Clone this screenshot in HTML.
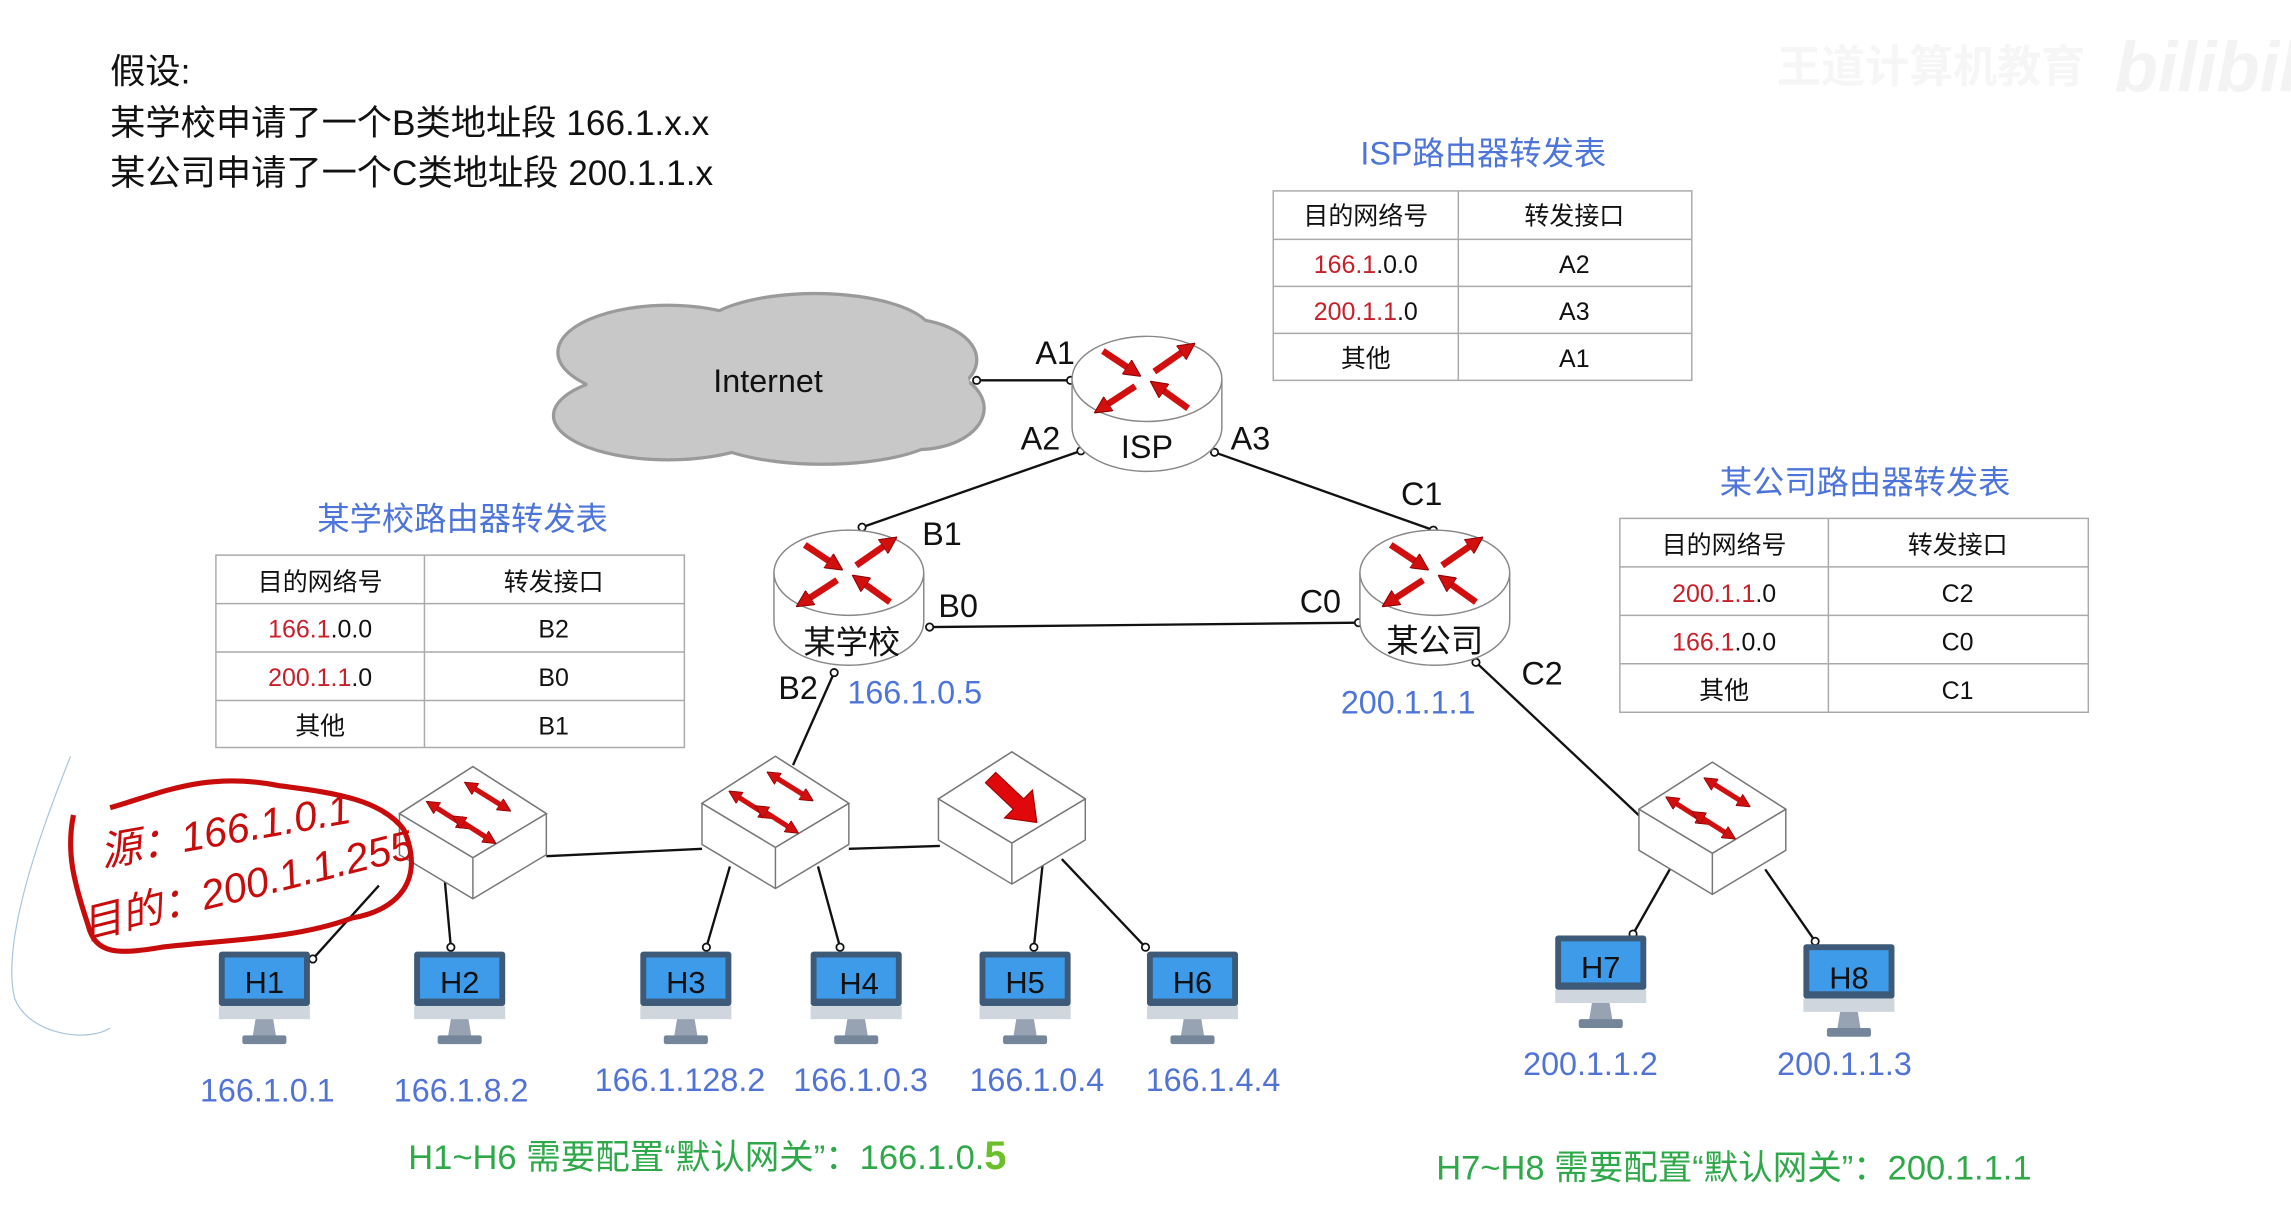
<!DOCTYPE html>
<html><head><meta charset="utf-8"><style>
html,body{margin:0;padding:0;background:#fff;}
svg{display:block;}
text{font-family:"Liberation Sans","Noto Sans CJK SC",sans-serif;}
</style></head><body>
<svg width="2291" height="1217" viewBox="0 0 1560 828.7" xmlns="http://www.w3.org/2000/svg">
<defs>
<marker id="ah" viewBox="0 0 10 10" refX="5" refY="5" markerWidth="2.6" markerHeight="2.6" orient="auto-start-reverse"><path d="M0,0 L10,5 L0,10 z" fill="#d10f0f" stroke="#8a0000" stroke-width="0.6"/></marker>
<g id="rarrows">
<line x1="-30" y1="-19" x2="-9" y2="-5" stroke="#d10f0f" stroke-width="4.5" marker-end="url(#ah)"/>
<line x1="5" y1="-5" x2="28" y2="-21" stroke="#d10f0f" stroke-width="4.5" marker-end="url(#ah)"/>
<line x1="-8" y1="5" x2="-31" y2="20" stroke="#d10f0f" stroke-width="4.5" marker-end="url(#ah)"/>
<line x1="28" y1="20" x2="7" y2="5" stroke="#d10f0f" stroke-width="4.5" marker-end="url(#ah)"/>
</g>
<g id="router">
<path d="M-51,0 L-51,33 A51,30 0 0 0 51,33 L51,0" fill="#fff" stroke="#888" stroke-width="1"/>
<ellipse cx="0" cy="0" rx="51" ry="29" fill="#fff" stroke="#888" stroke-width="1"/>
<use href="#rarrows"/>
</g>
<g id="box">
<path d="M0,0 L50,32 L50,60 L0,90 L-50,60 L-50,32 Z" fill="#fff" stroke="#777" stroke-width="1"/>
<path d="M-50,32 L0,62 L50,32 M0,62 L0,90" fill="none" stroke="#777" stroke-width="1"/>
<path d="M0,0 L50,32 L0,62 L-50,32 Z" fill="#fff" stroke="#777" stroke-width="1"/>
</g>
<g id="sw">
<use href="#box"/>
<line x1="-2" y1="13" x2="22" y2="28" stroke="#d10f0f" stroke-width="3.5" marker-start="url(#ah)" marker-end="url(#ah)"/>
<line x1="-28" y1="26" x2="-6" y2="40" stroke="#d10f0f" stroke-width="3.5" marker-start="url(#ah)" marker-end="url(#ah)"/>
<line x1="-10" y1="36" x2="12" y2="50" stroke="#d10f0f" stroke-width="3.5" marker-start="url(#ah)" marker-end="url(#ah)"/>
</g>
<g id="mon">
<rect x="0" y="0" width="62" height="37" rx="2" fill="#3d5a78"/>
<rect x="4" y="4" width="54" height="28" fill="#3d9be9"/>
<rect x="0" y="37" width="62" height="9" fill="#cfd6de"/>
<path d="M25,46 L37,46 L39,58 L23,58 Z" fill="#97a3b3"/>
<rect x="16" y="57" width="30" height="6" rx="1.5" fill="#75869a"/>
</g>
</defs>

<!-- watermark -->
<text x="1210" y="56" font-size="30" fill="#f6f6f6" font-weight="bold">王道计算机教育</text>
<text x="1440" y="62" font-size="48" fill="#f3f3f3" font-weight="bold" font-style="italic">bilibili</text>

<!-- assumption text -->
<g font-size="24" fill="#111">
<text x="75" y="57">假设:</text>
<text x="75" y="92">某学校申请了一个B类地址段 166.1.x.x</text>
<text x="75" y="126">某公司申请了一个C类地址段 200.1.1.x</text>
</g>

<!-- ISP table -->
<text x="1010" y="112" font-size="22" fill="#4d74d9" text-anchor="middle">ISP路由器转发表</text>
<g stroke="#aaa" stroke-width="1" fill="none">
<rect x="867" y="130" width="285" height="129"/>
<line x1="993" y1="130" x2="993" y2="259"/>
<line x1="867" y1="163" x2="1152" y2="163"/><line x1="867" y1="195" x2="1152" y2="195"/><line x1="867" y1="227" x2="1152" y2="227"/>
</g>
<g font-size="17" text-anchor="middle" fill="#111">
<text x="930" y="153">目的网络号</text><text x="1072" y="153">转发接口</text>
<text x="930" y="186"><tspan fill="#c8202a">166.1</tspan>.0.0</text><text x="1072" y="186">A2</text>
<text x="930" y="218"><tspan fill="#c8202a">200.1.1</tspan>.0</text><text x="1072" y="218">A3</text>
<text x="930" y="250">其他</text><text x="1072" y="250">A1</text>
</g>

<!-- school table -->
<text x="315" y="361" font-size="22" fill="#4d74d9" text-anchor="middle">某学校路由器转发表</text>
<g stroke="#aaa" stroke-width="1" fill="none">
<rect x="147" y="378" width="319" height="131"/>
<line x1="289" y1="378" x2="289" y2="509"/>
<line x1="147" y1="411" x2="466" y2="411"/><line x1="147" y1="444" x2="466" y2="444"/><line x1="147" y1="477" x2="466" y2="477"/>
</g>
<g font-size="17" text-anchor="middle" fill="#111">
<text x="218" y="402">目的网络号</text><text x="377" y="402">转发接口</text>
<text x="218" y="434"><tspan fill="#c8202a">166.1</tspan>.0.0</text><text x="377" y="434">B2</text>
<text x="218" y="467"><tspan fill="#c8202a">200.1.1</tspan>.0</text><text x="377" y="467">B0</text>
<text x="218" y="500">其他</text><text x="377" y="500">B1</text>
</g>

<!-- company table -->
<text x="1270" y="336" font-size="22" fill="#4d74d9" text-anchor="middle">某公司路由器转发表</text>
<g stroke="#aaa" stroke-width="1" fill="none">
<rect x="1103" y="353" width="319" height="132"/>
<line x1="1245" y1="353" x2="1245" y2="485"/>
<line x1="1103" y1="386" x2="1422" y2="386"/><line x1="1103" y1="419" x2="1422" y2="419"/><line x1="1103" y1="452" x2="1422" y2="452"/>
</g>
<g font-size="17" text-anchor="middle" fill="#111">
<text x="1174" y="377">目的网络号</text><text x="1333" y="377">转发接口</text>
<text x="1174" y="410"><tspan fill="#c8202a">200.1.1</tspan>.0</text><text x="1333" y="410">C2</text>
<text x="1174" y="443"><tspan fill="#c8202a">166.1</tspan>.0.0</text><text x="1333" y="443">C0</text>
<text x="1174" y="476">其他</text><text x="1333" y="476">C1</text>
</g>

<!-- cloud -->
<g stroke="#9a9a9a" stroke-width="2.5" fill="#c8c8c8">
<ellipse cx="455" cy="240" rx="75" ry="32"/><ellipse cx="555" cy="228" rx="80" ry="28"/><ellipse cx="615" cy="245" rx="50" ry="28"/>
<ellipse cx="455" cy="283" rx="78" ry="30"/><ellipse cx="560" cy="290" rx="85" ry="26"/><ellipse cx="625" cy="278" rx="45" ry="28"/>
</g>
<g fill="#c8c8c8">
<ellipse cx="455" cy="240" rx="74" ry="31"/><ellipse cx="555" cy="228" rx="79" ry="27"/><ellipse cx="615" cy="245" rx="49" ry="27"/>
<ellipse cx="455" cy="283" rx="77" ry="29"/><ellipse cx="560" cy="290" rx="84" ry="25"/><ellipse cx="625" cy="278" rx="44" ry="27"/>
<ellipse cx="530" cy="262" rx="130" ry="40"/>
</g>
<text x="523" y="267" font-size="22" fill="#111" text-anchor="middle">Internet</text>

<!-- links -->
<g stroke="#111" stroke-width="1.6" fill="none">
<line x1="665" y1="259" x2="729" y2="259"/>
<line x1="736" y1="307" x2="587" y2="359"/>
<line x1="827" y1="308" x2="976" y2="361"/>
<line x1="633" y1="427" x2="925" y2="424"/>
<line x1="568" y1="458" x2="540" y2="521"/>
<line x1="1005" y1="451" x2="1119" y2="558"/>
<line x1="372" y1="583" x2="478" y2="578"/>
<line x1="578" y1="578" x2="640" y2="576"/>
<line x1="258" y1="603" x2="213" y2="653"/>
<line x1="302" y1="590" x2="307" y2="645"/>
<line x1="497" y1="590" x2="481" y2="645"/>
<line x1="557" y1="590" x2="572" y2="645"/>
<line x1="710" y1="588" x2="704" y2="645"/>
<line x1="723" y1="585" x2="780" y2="645"/>
<line x1="1137" y1="592" x2="1112" y2="636"/>
<line x1="1202" y1="592" x2="1236" y2="641"/>
</g>
<g fill="#fff" stroke="#111" stroke-width="1.2">
<circle cx="665" cy="259" r="2.5"/><circle cx="729" cy="259" r="2.5"/><circle cx="736" cy="307" r="2.5"/><circle cx="587" cy="359" r="2.5"/>
<circle cx="827" cy="308" r="2.5"/><circle cx="976" cy="361" r="2.5"/><circle cx="633" cy="427" r="2.5"/><circle cx="925" cy="424" r="2.5"/>
<circle cx="568" cy="458" r="2.5"/><circle cx="1005" cy="451" r="2.5"/>
<circle cx="213" cy="653" r="2.5"/><circle cx="307" cy="645" r="2.5"/><circle cx="481" cy="645" r="2.5"/><circle cx="572" cy="645" r="2.5"/>
<circle cx="704" cy="645" r="2.5"/><circle cx="780" cy="645" r="2.5"/><circle cx="1112" cy="636" r="2.5"/><circle cx="1236" cy="641" r="2.5"/>
</g>

<!-- routers -->
<use href="#router" x="781" y="258"/>
<use href="#router" x="578" y="390"/>
<use href="#router" x="977" y="390"/>
<g font-size="22" fill="#111">
<text x="781" y="312" text-anchor="middle">ISP</text>
<text x="580" y="445" text-anchor="middle">某学校</text>
<text x="977" y="444" text-anchor="middle">某公司</text>
<text x="705" y="248">A1</text><text x="695" y="306">A2</text><text x="838" y="306">A3</text>
<text x="628" y="371">B1</text><text x="639" y="420">B0</text><text x="530" y="476">B2</text>
<text x="954" y="344">C1</text><text x="885" y="417">C0</text><text x="1036" y="466">C2</text>
</g>
<g font-size="22" fill="#4d74d9">
<text x="577" y="479">166.1.0.5</text>
<text x="913" y="486">200.1.1.1</text>
</g>

<!-- switches -->
<use href="#sw" x="322" y="522"/>
<use href="#sw" x="528" y="515"/>
<use href="#sw" x="1166" y="519"/>
<use href="#box" x="689" y="512"/>
<path d="M671,533 L678,526 L697,544 L703,538 L706,560 L684,557 L690,551 Z" fill="#e0080a" stroke="#a00000" stroke-width="0.8"/>

<!-- monitors -->
<use href="#mon" x="149" y="648"/>
<use href="#mon" x="282" y="648"/>
<use href="#mon" x="436" y="648"/>
<use href="#mon" x="552" y="648"/>
<use href="#mon" x="667" y="648"/>
<use href="#mon" x="781" y="648"/>
<use href="#mon" x="1059" y="637"/>
<use href="#mon" x="1228" y="643"/>
<g font-size="21" fill="#111" text-anchor="middle">
<text x="180" y="676">H1</text><text x="313" y="676">H2</text><text x="467" y="676">H3</text><text x="585" y="677">H4</text>
<text x="698" y="676">H5</text><text x="812" y="676">H6</text><text x="1090" y="666">H7</text><text x="1259" y="673">H8</text>
</g>
<g font-size="22" fill="#5273d6" text-anchor="middle">
<text x="182" y="750">166.1.0.1</text><text x="314" y="750">166.1.8.2</text><text x="463" y="743">166.1.128.2</text>
<text x="586" y="743">166.1.0.3</text><text x="706" y="743">166.1.0.4</text><text x="826" y="743">166.1.4.4</text>
<text x="1083" y="732">200.1.1.2</text><text x="1256" y="732">200.1.1.3</text>
</g>

<!-- green notes -->
<text x="278" y="796" font-size="23.5" fill="#2fa84a">H1~H6 需要配置“默认网关”：166.1.0.<tspan fill="#6abf2a" font-weight="bold" font-size="27">5</tspan></text>
<text x="978" y="803" font-size="23.5" fill="#2fa84a">H7~H8 需要配置“默认网关”：200.1.1.1</text>

<!-- handwriting annotation -->
<path d="M48,515 C30,560 0,640 10,680 C20,705 60,710 75,700" fill="none" stroke="#a8c4dc" stroke-width="0.8"/>
<path d="M75,550 C110,540 140,525 190,535 C230,540 260,545 275,565 C290,600 270,620 240,625 C200,640 150,640 110,645 C80,650 65,650 60,630 C50,600 45,580 50,555" fill="none" stroke="#c80c0c" stroke-width="3.5"/>
<g fill="#c80c0c" font-family="Liberation Serif, Noto Serif CJK SC, serif" font-style="italic" font-size="28">
<text transform="translate(70,590) rotate(-10)">源：166.1.0.1</text>
<text transform="translate(58,640) rotate(-14)">目的：200.1.1.255</text>
</g>
</svg>
</body></html>
